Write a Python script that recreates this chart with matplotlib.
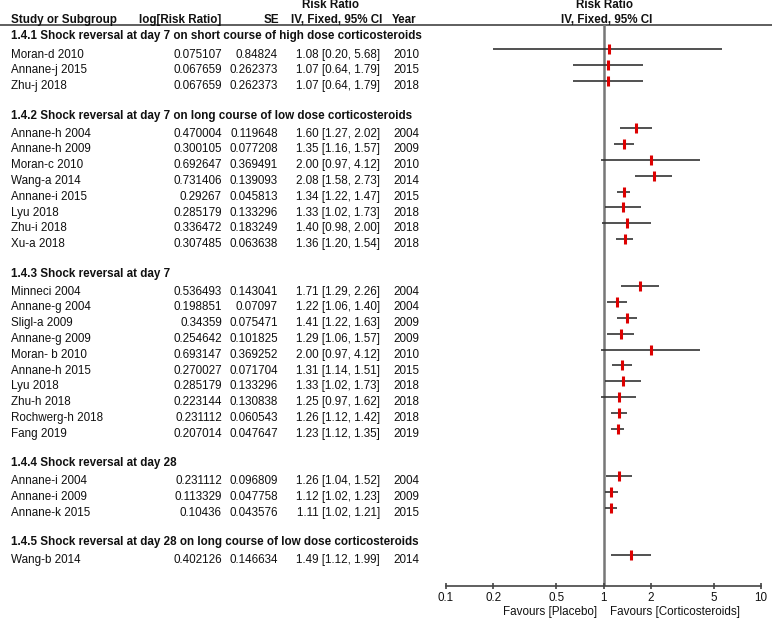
import numpy as np
import matplotlib
matplotlib.use("Agg")
import matplotlib.pyplot as plt

plt.rcParams['font.family'] = ['Liberation Sans', 'DejaVu Sans']

# subgroup titles and which subgroup each study belongs to
groups = [
    "1.4.1 Shock reversal at day 7 on short course of high dose corticosteroids",
    "1.4.2 Shock reversal at day 7 on long course of low dose corticosteroids",
    "1.4.3 Shock reversal at day 7",
    "1.4.4 Shock reversal at day 28",
    "1.4.5 Shock reversal at day 28 on long course of low dose corticosteroids",
]
group_id = [0, 0, 0,
            1, 1, 1, 1, 1, 1, 1, 1,
            2, 2, 2, 2, 2, 2, 2, 2, 2, 2,
            3, 3, 3,
            4]
studies = ["Moran-d 2010", "Annane-j 2015", "Zhu-j 2018",
           "Annane-h 2004", "Annane-h 2009", "Moran-c 2010", "Wang-a 2014",
           "Annane-i 2015", "Lyu 2018", "Zhu-i 2018", "Xu-a 2018",
           "Minneci 2004", "Annane-g 2004", "Sligl-a 2009", "Annane-g 2009",
           "Moran- b 2010", "Annane-h 2015", "Lyu 2018", "Zhu-h 2018",
           "Rochwerg-h 2018", "Fang 2019",
           "Annane-i 2004", "Annane-i 2009", "Annane-k 2015",
           "Wang-b 2014"]
log_rr = [0.075107, 0.067659, 0.067659,
          0.470004, 0.300105, 0.692647, 0.731406, 0.29267, 0.285179, 0.336472, 0.307485,
          0.536493, 0.198851, 0.34359, 0.254642, 0.693147, 0.270027, 0.285179, 0.223144,
          0.231112, 0.207014,
          0.231112, 0.113329, 0.10436,
          0.402126]
se = [0.84824, 0.262373, 0.262373,
      0.119648, 0.077208, 0.369491, 0.139093, 0.045813, 0.133296, 0.183249, 0.063638,
      0.143041, 0.07097, 0.075471, 0.101825, 0.369252, 0.071704, 0.133296, 0.130838,
      0.060543, 0.047647,
      0.096809, 0.047758, 0.043576,
      0.146634]
rr = [1.08, 1.07, 1.07,
      1.60, 1.35, 2.00, 2.08, 1.34, 1.33, 1.40, 1.36,
      1.71, 1.22, 1.41, 1.29, 2.00, 1.31, 1.33, 1.25, 1.26, 1.23,
      1.26, 1.12, 1.11,
      1.49]
ci_lo = [0.20, 0.64, 0.64,
         1.27, 1.16, 0.97, 1.58, 1.22, 1.02, 0.98, 1.20,
         1.29, 1.06, 1.22, 1.06, 0.97, 1.14, 1.02, 0.97, 1.12, 1.12,
         1.04, 1.02, 1.02,
         1.12]
ci_hi = [5.68, 1.79, 1.79,
         2.02, 1.57, 4.12, 2.73, 1.47, 1.73, 2.00, 1.54,
         2.26, 1.40, 1.63, 1.57, 4.12, 1.51, 1.73, 1.62, 1.42, 1.35,
         1.52, 1.23, 1.21,
         1.99]
years = [2010, 2015, 2018,
         2004, 2009, 2010, 2014, 2015, 2018, 2018, 2018,
         2004, 2004, 2009, 2009, 2010, 2015, 2018, 2018, 2018, 2019,
         2004, 2009, 2015,
         2014]
ticks = [0.1, 0.2, 0.5, 1, 2, 5, 10]
tick_labels = ["0.1", "0.2", "0.5", "1", "2", "5", "10"]

# layout in pixels
W, H = 772, 620
Y1, PITCH = 49.3, 15.8
def ypix(r):
    return Y1 + (r - 1) * PITCH

# row index of each header and each study
header_rows = []
study_rows = []
r = 0
for g in range(len(groups)):
    header_rows.append(r)
    r += 1
    for i, gid in enumerate(group_id):
        if gid == g:
            study_rows.append(r)
            r += 1
    r += 1

fig = plt.figure(figsize=(W / 100, H / 100), dpi=100)
tax = fig.add_axes([0, 0, 1, 1])
tax.set_xlim(0, W)
tax.set_ylim(H, 0)
tax.axis('off')

FS = 8.4
TC = '#111111'
ax_bottom, ax_top = 585.7, 25
ax_left, ax_right = 446, 761
fax = fig.add_axes([ax_left / W, (H - ax_bottom) / H,
                    (ax_right - ax_left) / W, (ax_bottom - ax_top) / H])
fax.set_xscale('log')
fax.set_xlim(0.1, 10)
fax.set_ylim(ax_bottom, ax_top)
fax.patch.set_visible(False)
for s in ['top', 'right', 'left']:
    fax.spines[s].set_visible(False)
fax.spines['bottom'].set_color('#444444')
fax.spines['bottom'].set_linewidth(1.2)
fax.set_yticks([])
fax.set_xticks(ticks)
fax.set_xticklabels(tick_labels)
fax.minorticks_off()
fax.tick_params(axis='x', direction='inout', length=5, width=1.2, color='#444444',
                labelsize=FS, labelcolor=TC, pad=2)

# column headers
tax.plot([0, W], [24.5, 24.5], color='#333333', lw=1.1)
tax.text(331, 8.5, "Risk Ratio", ha='center', va='baseline', fontsize=FS, fontweight='bold', color=TC)
tax.text(605, 8.5, "Risk Ratio", ha='center', va='baseline', fontsize=FS, fontweight='bold', color=TC)
hy = 23
tax.text(11, hy, "Study or Subgroup", ha='left', va='baseline', fontsize=FS, fontweight='bold', color=TC)
tax.text(221, hy, "log[Risk Ratio]", ha='right', va='baseline', fontsize=FS, fontweight='bold', color=TC)
tax.text(279, hy, "SE", ha='right', va='baseline', fontsize=FS, fontweight='bold', color=TC)
tax.text(337, hy, "IV, Fixed, 95% CI", ha='center', va='baseline', fontsize=FS, fontweight='bold', color=TC)
tax.text(392, hy, "Year", ha='left', va='baseline', fontsize=FS, fontweight='bold', color=TC)
tax.text(607, hy, "IV, Fixed, 95% CI", ha='center', va='baseline', fontsize=FS, fontweight='bold', color=TC)

for g, hr in enumerate(header_rows):
    tax.text(11, ypix(hr) + 6, groups[g], ha='left', va='baseline', fontsize=FS,
             fontweight='bold', color=TC)

for i, sr in enumerate(study_rows):
    yb = ypix(sr) + 8.3
    tax.text(11, yb, studies[i], ha='left', va='baseline', fontsize=FS, color=TC)
    tax.text(222, yb, str(log_rr[i]), ha='right', va='baseline', fontsize=FS, color=TC)
    tax.text(278, yb, str(se[i]), ha='right', va='baseline', fontsize=FS, color=TC)
    tax.text(380, yb, "%.2f [%.2f, %.2f]" % (rr[i], ci_lo[i], ci_hi[i]),
             ha='right', va='baseline', fontsize=FS, color=TC)
    tax.text(393, yb, str(years[i]), ha='left', va='baseline', fontsize=FS, color=TC)

# forest plot
fax.axvline(1, color='#777777', lw=1.8, zorder=1)
yrow = [ypix(sr) for sr in study_rows]
fax.hlines(yrow, ci_lo, ci_hi, color='#333333', lw=1.2, zorder=2)
fax.plot(rr, yrow, linestyle='none', marker='|', markersize=6.5, mew=2.2,
         color='#dd0000', zorder=3)

tax.text(597, 615, "Favours [Placebo]", ha='right', va='baseline', fontsize=FS, color=TC)
tax.text(610, 615, "Favours [Corticosteroids]", ha='left', va='baseline', fontsize=FS, color=TC)

fig.savefig("out.png", dpi=100)
